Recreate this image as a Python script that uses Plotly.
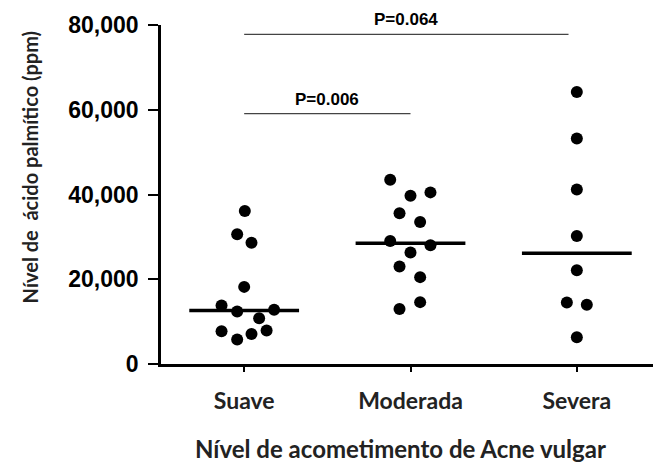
import numpy as np
import plotly.graph_objects as go

categories = ["Suave", "Moderada", "Severa"]

suave = [36100, 30600, 28600, 18200, 13800, 12400, 12800, 10800, 7750, 5800, 7100, 7900]
suave_jitter = [0.004, -0.042, 0.044, 0.0, -0.136, -0.042, 0.18, 0.09, -0.136, -0.042, 0.044, 0.135]

moderada = [43500, 39700, 40500, 35600, 33500, 29000, 28000, 26300, 23000, 20500, 14600, 13000]
moderada_jitter = [-0.122, 0.0, 0.12, -0.066, 0.058, -0.122, 0.12, 0.0, -0.066, 0.058, 0.058, -0.066]

severa = [64200, 53200, 41200, 30200, 22100, 14500, 14000, 6300]
severa_jitter = [0.0, 0.0, 0.0, 0.0, 0.0, -0.06, 0.06, 0.0]

comparisons = [  # (from, to, bar level, label)
    (0, 1, 59100, "P=0.006"),
    (0, 1.95, 77800, "P=0.064"),
]

y_ticks = [0, 20000, 40000, 60000, 80000]

groups = [suave, moderada, severa]
jitters = [suave_jitter, moderada_jitter, severa_jitter]

fig = go.Figure()
for i, (vals, jit) in enumerate(zip(groups, jitters)):
    fig.add_trace(go.Scatter(
        x=[i + j for j in jit], y=vals, mode="markers",
        marker=dict(color="black", size=12, line=dict(width=0)),
        showlegend=False, hoverinfo="y"))
    med = float(np.median(vals))
    fig.add_trace(go.Scatter(
        x=[i - 0.33, i + 0.33], y=[med, med], mode="lines",
        line=dict(color="black", width=3.5), showlegend=False, hoverinfo="skip"))

for a, b, lvl, lab in comparisons:
    fig.add_trace(go.Scatter(
        x=[a, b], y=[lvl, lvl], mode="lines",
        line=dict(color="#444444", width=1.3), showlegend=False, hoverinfo="skip"))
    fig.add_annotation(x=(a + b) / 2, y=lvl, text=lab, showarrow=False,
                       yanchor="bottom", yshift=3,
                       font=dict(family="Liberation Sans", size=17, color="black", weight="bold"))

fig.add_annotation(xref="paper", yref="paper", x=-0.2625, y=0.58,
                   text="Nível de  ácido palmítico (ppm)", textangle=-90,
                   showarrow=False, xanchor="center", yanchor="middle",
                   font=dict(family="Lato", size=20, color="#222222", weight="bold"))
fig.add_annotation(xref="paper", yref="paper", x=0.479, y=-0.25,
                   text="Nível de acometimento de Acne vulgar",
                   showarrow=False, xanchor="center", yanchor="middle",
                   font=dict(family="Lato", size=24, color="#222222", weight="bold"))

fig.update_xaxes(range=[-0.5, 2.5], tickvals=[0, 1, 2], ticktext=categories,
                 showline=True, linecolor="black", linewidth=2.5,
                 ticks="outside", ticklen=5, tickwidth=2, tickcolor="black",
                 showgrid=False, zeroline=False, ticklabelstandoff=10,
                 tickfont=dict(family="Lato", size=23, color="#222222", weight="bold"))
fig.update_yaxes(range=[0, 80000], tickvals=y_ticks, tickformat=",",
                 showline=True, linecolor="black", linewidth=2.5,
                 ticks="outside", ticklen=10, tickwidth=2, tickcolor="black",
                 showgrid=False, zeroline=False, ticklabelstandoff=5,
                 tickfont=dict(family="Liberation Sans", size=23, color="black", weight="bold"))

fig.update_layout(width=653, height=454, margin=dict(l=153, r=1, t=17, b=98),
                  plot_bgcolor="white", paper_bgcolor="white")

fig.write_html("out.html")
